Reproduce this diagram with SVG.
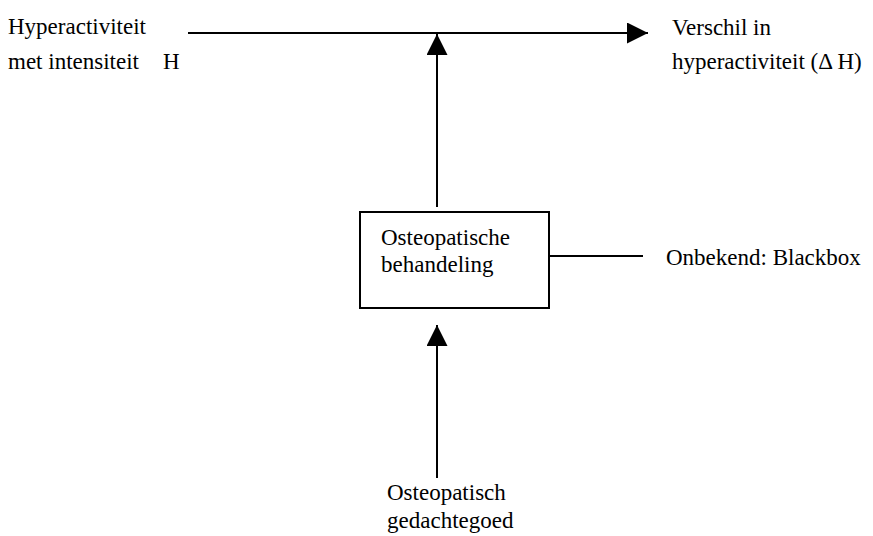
<svg xmlns="http://www.w3.org/2000/svg" width="873" height="536" viewBox="0 0 873 536">
<style>
text{font-family:"Liberation Serif","Times New Roman",serif;font-size:23px;fill:#000}
.ln{stroke:#000;stroke-width:2;fill:none}
</style>
<defs>
<marker id="ah" viewBox="0 0 21 21" refX="21" refY="10.5" markerWidth="21" markerHeight="21" markerUnits="userSpaceOnUse" orient="auto">
<path d="M0,0 L21,10.5 L0,21 Z" fill="#000"/>
</marker>
</defs>
<rect width="873" height="536" fill="#fff"/>
<g id="connectors">
<line class="ln" x1="188" y1="33" x2="648" y2="33" marker-end="url(#ah)"/>
<line class="ln" x1="437" y1="207" x2="437" y2="34" marker-end="url(#ah)"/>
<line class="ln" x1="437" y1="478" x2="437" y2="325" marker-end="url(#ah)"/>
<line class="ln" x1="549" y1="256" x2="643" y2="256"/>
</g>
<g id="input">
<text x="8" y="34">Hyperactiviteit</text>
<text x="8" y="69">met intensiteit<tspan x="163">H</tspan></text>
</g>
<g id="output">
<text x="672" y="35">Verschil in</text>
<text x="672" y="69">hyperactiviteit (Δ H)</text>
</g>
<g id="treatment">
<rect x="360" y="212" width="189" height="96" fill="#fff" stroke="#000" stroke-width="2"/>
<text x="381" y="245">Osteopatische</text>
<text x="381" y="272">behandeling</text>
</g>
<g id="blackbox">
<text x="666" y="265">Onbekend: Blackbox</text>
</g>
<g id="thought">
<text x="387" y="500">Osteopatisch</text>
<text x="387" y="528">gedachtegoed</text>
</g>
</svg>
